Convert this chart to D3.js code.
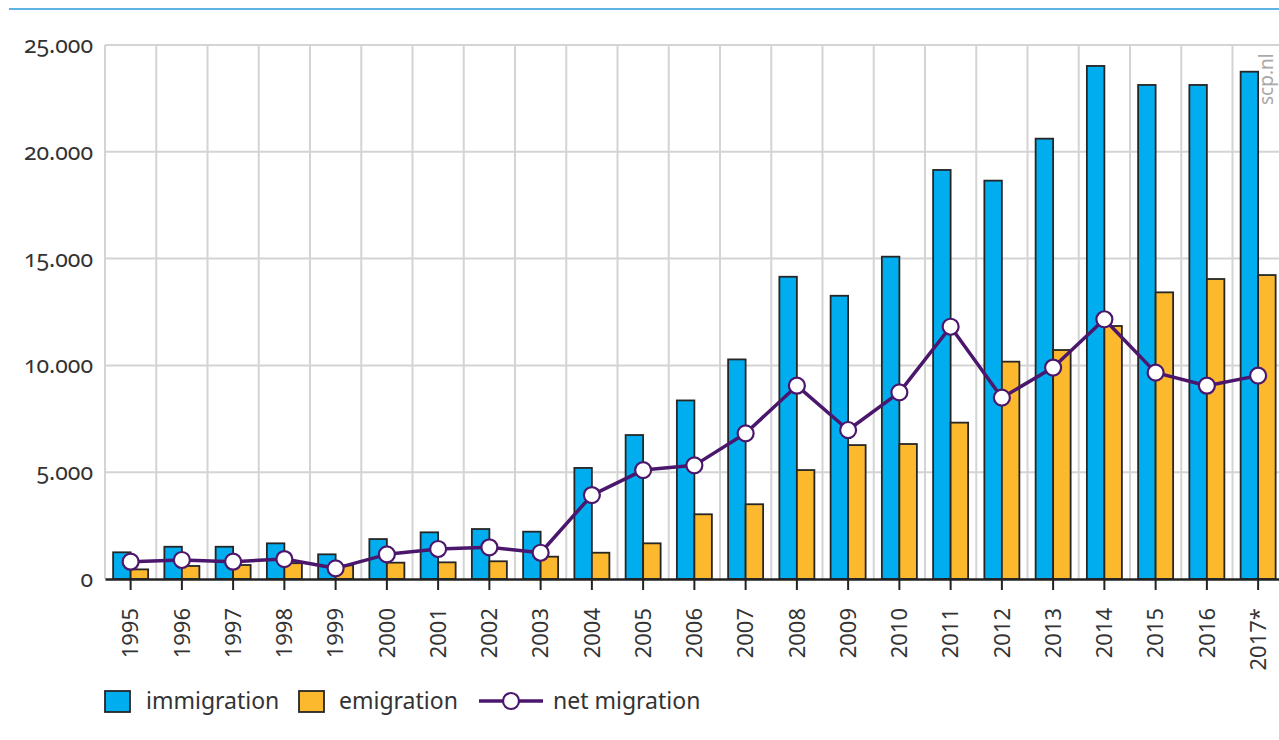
<!DOCTYPE html>
<html>
<head>
<meta charset="utf-8">
<script src="https://cdn.jsdelivr.net/npm/d3@7"></script>
<style>
  html, body { margin: 0; padding: 0; background: #fff; }
  svg { display: block; font-family: "Noto Sans", "Open Sans", sans-serif; }
  text.ylab { font-variant-numeric: oldstyle-nums; font-feature-settings: "onum" 1; }
</style>
</head>
<body>
<svg id="chart" width="1279" height="740"></svg>
<script>
// Migration figures per year
const years = ["1995","1996","1997","1998","1999","2000","2001","2002","2003","2004","2005",
               "2006","2007","2008","2009","2010","2011","2012","2013","2014","2015","2016","2017*"];
const immigration = [1250,1510,1510,1670,1155,1870,2185,2340,2215,5200,6740,
                     8360,10280,14150,13260,15090,19150,18650,20615,24020,23130,23130,23750];
const emigration  = [450,610,655,740,640,765,780,830,1045,1230,1670,
                     3030,3500,5100,6270,6320,7320,10175,10720,11845,13420,14045,14230];
const netMigration = [810,890,810,935,500,1155,1405,1485,1230,3930,5100,
                      5320,6820,9050,6975,8740,11810,8490,9900,12160,9660,9050,9520];
const yTicks = [0,5000,10000,15000,20000,25000];
const seriesNames = ["immigration","emigration"];
const legendLabels = ["immigration","emigration","net migration"];

const colors = { immigration: "#00aeef", emigration: "#fdb92e", net: "#4b176c" };
const gridColor = "#d4d4d4";
const textColor = "#333";

const svg = d3.select("#chart");
const plotLeft = 105, plotRight = 105 + 23 * 51.25, plotTop = 45, plotBottom = 579;

const x0 = d3.scaleBand().domain(years).range([plotLeft, plotRight]).paddingInner(0).paddingOuter(0);
const x1 = d3.scaleBand().domain(seriesNames).range([0, x0.bandwidth()]).paddingInner(0).paddingOuter(0.464);
const y = d3.scaleLinear().domain([0, 25000]).range([plotBottom, plotTop]);

const nl = d3.formatLocale({ decimal: ",", thousands: ".", grouping: [3], currency: ["", ""] });
const fmt = nl.format(",");

// header rule
svg.append("line").attr("x1", 9).attr("x2", 1279).attr("y1", 9).attr("y2", 9)
  .attr("stroke", "#5fb3e3").attr("stroke-width", 2);

// horizontal grid
svg.append("g").selectAll("line").data(yTicks.filter(d => d > 0)).join("line")
  .attr("x1", plotLeft).attr("x2", plotRight).attr("y1", d => y(d)).attr("y2", d => y(d))
  .attr("stroke", gridColor).attr("stroke-width", 2);

// vertical grid at category boundaries
const bounds = years.map(d => x0(d));
svg.append("g").selectAll("line").data(bounds).join("line")
  .attr("x1", d => d).attr("x2", d => d).attr("y1", plotTop).attr("y2", plotBottom)
  .attr("stroke", gridColor).attr("stroke-width", 2);

// y axis labels (old-style figures)
const yAxis = svg.append("g").attr("transform", `translate(${plotLeft},0)`)
  .call(d3.axisLeft(y).tickValues(yTicks).tickFormat(fmt).tickSize(0).tickPadding(12));
yAxis.select(".domain").remove();
yAxis.attr("font-family", null).attr("font-size", null);
yAxis.selectAll("text").attr("class", "ylab").attr("fill", textColor)
  .style("font-size", "23px").style("font-family", "'Noto Sans', sans-serif")
  .style("font-variant-numeric", "oldstyle-nums").style("font-feature-settings", '"onum" 1')
  .attr("dy", "0.33em");

// bars
const rows = years.map((yr, i) => ({ year: yr, immigration: immigration[i], emigration: emigration[i] }));
svg.append("g").selectAll("g").data(rows).join("g")
  .attr("transform", d => `translate(${x0(d.year)},0)`)
  .selectAll("rect").data(d => seriesNames.map(k => ({ key: k, value: d[k] }))).join("rect")
  .attr("x", d => x1(d.key)).attr("width", x1.bandwidth())
  .attr("y", d => y(d.value)).attr("height", d => y(0) - y(d.value))
  .attr("fill", d => colors[d.key]).attr("stroke", "#262626").attr("stroke-width", 1.8);

// x axis
const xAxis = svg.append("g").attr("transform", `translate(0,${plotBottom})`)
  .call(d3.axisBottom(x0).tickSize(11).tickSizeOuter(0));
xAxis.select(".domain").attr("stroke", "#222").attr("stroke-width", 2.5);
xAxis.selectAll(".tick line").attr("stroke", "#222").attr("stroke-width", 2);
xAxis.selectAll("text").attr("fill", textColor).style("font-size", "22px")
  .style("font-family", "'Noto Sans', sans-serif")
  .attr("transform", "rotate(-90)").attr("x", -29).attr("y", 0).attr("dy", "0.35em")
  .style("text-anchor", "end");

// net migration line
const cx = d => x0(d) + x0.bandwidth() / 2;
const netPts = years.map((yr, i) => ({ year: yr, value: netMigration[i] }));
svg.append("path").datum(netPts)
  .attr("d", d3.line().x(d => cx(d.year)).y(d => y(d.value)))
  .attr("fill", "none").attr("stroke", colors.net).attr("stroke-width", 3.5).attr("stroke-linejoin", "round");
svg.append("g").selectAll("circle").data(netPts).join("circle")
  .attr("cx", d => cx(d.year)).attr("cy", d => y(d.value)).attr("r", 8)
  .attr("fill", "#fff").attr("stroke", colors.net).attr("stroke-width", 2.2);

// source mark
svg.append("text").attr("transform", "translate(1273,105) rotate(-90)")
  .attr("fill", "#a9a9a9").style("font-size", "19px").text("scp.nl");

// legend
const lg = svg.append("g").style("font-size", "23px").attr("fill", textColor);
lg.append("rect").attr("x", 105).attr("y", 691).attr("width", 25).attr("height", 21)
  .attr("fill", colors.immigration).attr("stroke", "#262626").attr("stroke-width", 1.8);
lg.append("text").attr("x", 146).attr("y", 709).text(legendLabels[0]);
lg.append("rect").attr("x", 299).attr("y", 691).attr("width", 25).attr("height", 21)
  .attr("fill", colors.emigration).attr("stroke", "#262626").attr("stroke-width", 1.8);
lg.append("text").attr("x", 339).attr("y", 709).text(legendLabels[1]);
lg.append("line").attr("x1", 479).attr("x2", 543).attr("y1", 701).attr("y2", 701)
  .attr("stroke", colors.net).attr("stroke-width", 3.5);
lg.append("circle").attr("cx", 511).attr("cy", 701).attr("r", 8)
  .attr("fill", "#fff").attr("stroke", colors.net).attr("stroke-width", 2.2);
lg.append("text").attr("x", 553).attr("y", 709).text(legendLabels[2]);
</script>
</body>
</html>
